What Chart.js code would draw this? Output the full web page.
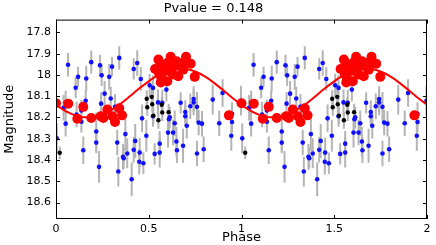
<!DOCTYPE html>
<html lang="en">
<head>
<meta charset="UTF-8">
<title>Pvalue = 0.148</title>
<script src="https://cdn.jsdelivr.net/npm/chart.js"></script>
<style>
  html, body { margin: 0; padding: 0; background: #fff; }
</style>
</head>
<body>
<canvas id="phaseChart" width="436" height="245"></canvas>
<script>
// axis ticks
const xTicks = [0, 0.5, 1, 1.5, 2];
const yTicks = [17.8, 17.9, 18, 18.1, 18.2, 18.3, 18.4, 18.5, 18.6];

// blue points (phase in [0,1), repeated at phase + 1)
const bluePhase = [0.004, 0.041, 0.052, 0.052, 0.065, 0.106, 0.111, 0.119, 0.137, 0.137,
  0.147, 0.160, 0.163, 0.190, 0.217, 0.217, 0.232, 0.237, 0.243, 0.246,
  0.262, 0.287, 0.295, 0.302, 0.318, 0.330, 0.336, 0.341, 0.361, 0.365,
  0.374, 0.384, 0.408, 0.419, 0.419, 0.427, 0.438, 0.449, 0.451, 0.457,
  0.464, 0.471, 0.487, 0.505, 0.523, 0.523, 0.532, 0.550, 0.559, 0.559,
  0.573, 0.595, 0.604, 0.609, 0.613, 0.631, 0.640, 0.649, 0.652, 0.672,
  0.685, 0.697, 0.697, 0.705, 0.724, 0.742, 0.742, 0.760, 0.760, 0.769,
  0.787, 0.796, 0.845, 0.880, 0.898, 0.945, 0.949, 0.949, 0.997];
const blueMag = [18.298, 18.154, 18.129, 18.229, 17.952, 18.060, 18.186, 18.009, 18.167, 18.220,
  18.354, 18.121, 18.017, 17.940, 18.266, 18.318, 18.432, 17.955, 18.135, 18.002,
  18.088, 18.009, 18.111, 17.961, 18.150, 18.318, 18.454, 17.920, 18.385, 18.391,
  18.278, 18.369, 18.490, 17.972, 18.352, 18.310, 17.944, 18.408, 18.365, 18.019,
  18.204, 18.415, 18.286, 18.049, 18.061, 18.194, 18.371, 18.129, 18.323, 18.365,
  18.131, 18.069, 18.271, 18.208, 18.199, 18.271, 18.227, 18.313, 18.354, 18.131,
  18.333, 18.174, 18.194, 18.239, 18.147, 18.113, 18.129, 18.150, 18.369, 18.224,
  18.229, 18.349, 18.116, 18.227, 18.085, 18.286, 18.183, 18.221, 18.121];
const blueErr = [0.07, 0.06, 0.055, 0.06, 0.055, 0.05, 0.06, 0.047, 0.05, 0.05,
  0.065, 0.05, 0.06, 0.055, 0.09, 0.05, 0.075, 0.05, 0.055, 0.05,
  0.06, 0.06, 0.055, 0.045, 0.06, 0.06, 0.07, 0.055, 0.06, 0.05,
  0.08, 0.07, 0.08, 0.05, 0.06, 0.08, 0.06, 0.06, 0.07, 0.055,
  0.065, 0.05, 0.075, 0.055, 0.06, 0.05, 0.05, 0.06, 0.06, 0.07,
  0.06, 0.055, 0.07, 0.05, 0.05, 0.06, 0.06, 0.07, 0.06, 0.05,
  0.08, 0.055, 0.05, 0.06, 0.06, 0.06, 0.06, 0.07, 0.06, 0.06,
  0.06, 0.06, 0.07, 0.06, 0.065, 0.07, 0.055, 0.05, 0.07];

// black points
const blackPhase = [0.020, 0.489, 0.492, 0.516, 0.519, 0.525, 0.552, 0.570, 0.573, 0.607];
const blackMag = [18.366, 18.112, 18.152, 18.103, 18.138, 18.191, 18.213, 18.140, 18.176, 18.175];
const blackErr = [0.03, 0.04, 0.04, 0.035, 0.04, 0.04, 0.04, 0.035, 0.04, 0.04];

// red points
const redPhase = [0.000, 0.066, 0.115, 0.147, 0.190, 0.241, 0.255, 0.277, 0.304, 0.318,
  0.341, 0.356, 0.932,
  0.534, 0.552, 0.557, 0.561, 0.565, 0.570, 0.578, 0.588, 0.597, 0.600,
  0.605, 0.618, 0.624, 0.632, 0.632, 0.650, 0.659, 0.668, 0.677, 0.686,
  0.701, 0.704, 0.726, 0.748];
const redMag = [18.133, 18.135, 18.206, 18.150, 18.202, 18.194, 18.202, 18.163, 18.194, 18.221,
  18.157, 18.190, 18.190,
  17.972, 17.928, 17.998, 17.967, 18.035, 18.022, 17.952, 17.983, 17.967, 18.030,
  17.941, 17.915, 17.988, 17.960, 17.998, 17.936, 18.006, 17.960, 17.944, 17.975,
  17.915, 17.944, 17.947, 18.009];

// fitted curve, one cycle
const curvePhase = [0, 0.05, 0.1, 0.15, 0.2, 0.25, 0.3, 0.35, 0.4, 0.45, 0.5,
  0.55, 0.6, 0.65, 0.7, 0.75, 0.8, 0.85, 0.9, 0.95, 1];
const curveMag = [18.140, 18.169, 18.189, 18.199, 18.198, 18.186, 18.164, 18.134, 18.099, 18.063, 18.030,
  18.001, 17.981, 17.971, 17.972, 17.984, 18.006, 18.036, 18.071, 18.107, 18.140];

// two cycles of the folded data
function fold(phase, mag) {
  const pts = phase.map((p, i) => ({ x: p, y: mag[i] }));
  return pts.concat(phase.map((p, i) => ({ x: p + 1, y: mag[i] })));
}
const twice = arr => arr.concat(arr);
const curvePts = fold(curvePhase, curveMag).filter((p, i) => i !== curvePhase.length);

const frameAndErrors = {
  id: 'frameAndErrors',
  beforeDatasetsDraw(chart) {
    const { ctx, chartArea: a, scales: { x, y } } = chart;
    ctx.save();
    ctx.beginPath();
    ctx.rect(a.left, a.top, a.right - a.left, a.bottom - a.top);
    ctx.clip();
    ctx.strokeStyle = '#b4b4b4';
    ctx.lineWidth = 2;
    chart.data.datasets.forEach(ds => {
      if (!ds.errs) return;
      ds.data.forEach((p, i) => {
        const px = x.getPixelForValue(p.x);
        ctx.beginPath();
        ctx.moveTo(px, y.getPixelForValue(p.y - ds.errs[i]));
        ctx.lineTo(px, y.getPixelForValue(p.y + ds.errs[i]));
        ctx.stroke();
      });
    });
    ctx.restore();
  },
  afterDraw(chart) {
    const { ctx, chartArea: a, scales: { x, y } } = chart;
    ctx.save();
    ctx.strokeStyle = '#000';
    ctx.lineWidth = 1;
    ctx.strokeRect(a.left + 0.5, a.top + 0.5, a.right - a.left - 1, a.bottom - a.top - 1);
    ctx.beginPath();
    xTicks.forEach(v => {
      const px = Math.round(x.getPixelForValue(v)) + 0.5;
      ctx.moveTo(px, a.bottom); ctx.lineTo(px, a.bottom - 4);
      ctx.moveTo(px, a.top); ctx.lineTo(px, a.top + 4);
    });
    yTicks.forEach(v => {
      const py = Math.round(y.getPixelForValue(v)) + 0.5;
      ctx.moveTo(a.left, py); ctx.lineTo(a.left + 4, py);
      ctx.moveTo(a.right, py); ctx.lineTo(a.right - 4, py);
    });
    ctx.stroke();
    ctx.restore();
  }
};

Chart.defaults.font.family = 'DejaVu Sans';
Chart.defaults.color = '#000';

new Chart(document.getElementById('phaseChart'), {
  type: 'scatter',
  data: {
    datasets: [
      {
        label: 'red',
        data: fold(redPhase, redMag),
        pointStyle: 'circle',
        pointRadius: 5,
        backgroundColor: '#ff0000',
        borderColor: '#ff0000',
        pointBorderWidth: 0
      },
      {
        type: 'line',
        label: 'fit',
        data: curvePts,
        borderColor: '#ff0000',
        borderWidth: 2,
        pointRadius: 0,
        cubicInterpolationMode: 'monotone',
        fill: false
      },
      {
        label: 'black',
        data: fold(blackPhase, blackMag),
        errs: twice(blackErr),
        pointStyle: 'circle',
        pointRadius: 2.2,
        backgroundColor: '#000000',
        borderColor: '#000000',
        pointBorderWidth: 0
      },
      {
        label: 'blue',
        data: fold(bluePhase, blueMag),
        errs: twice(blueErr),
        pointStyle: 'circle',
        pointRadius: 2.3,
        backgroundColor: '#1010ff',
        borderColor: '#1010ff',
        pointBorderWidth: 0
      }
    ]
  },
  options: {
    responsive: false,
    animation: false,
    layout: { padding: { left: 0, right: 9, top: 0, bottom: 0 } },
    plugins: {
      legend: { display: false },
      tooltip: { enabled: false },
      title: {
        display: true,
        text: 'Pvalue = 0.148',
        font: { size: 13, weight: 'normal' },
        padding: { top: 1, bottom: 3 }
      }
    },
    scales: {
      x: {
        type: 'linear',
        min: 0,
        max: 2,
        grid: { display: false, drawTicks: false },
        border: { display: false },
        afterBuildTicks: s => { s.ticks = xTicks.map(v => ({ value: v })); },
        afterFit: s => { s.height = 26; },
        ticks: { font: { size: 11 }, padding: 4, maxRotation: 0, callback: v => String(v) },
        title: { display: true, text: 'Phase', font: { size: 13 }, padding: { top: 0, bottom: 0 } }
      },
      y: {
        min: 17.74,
        max: 18.677,
        reverse: true,
        grid: { display: false, drawTicks: false },
        border: { display: false },
        afterBuildTicks: s => { s.ticks = yTicks.map(v => ({ value: v })); },
        afterFit: s => { s.width = 56; },
        ticks: { font: { size: 11 }, padding: 5, callback: v => String(v) },
        title: { display: true, text: 'Magnitude', font: { size: 13 }, padding: { top: 2, bottom: 0 } }
      }
    }
  },
  plugins: [frameAndErrors]
});
</script>
</body>
</html>
